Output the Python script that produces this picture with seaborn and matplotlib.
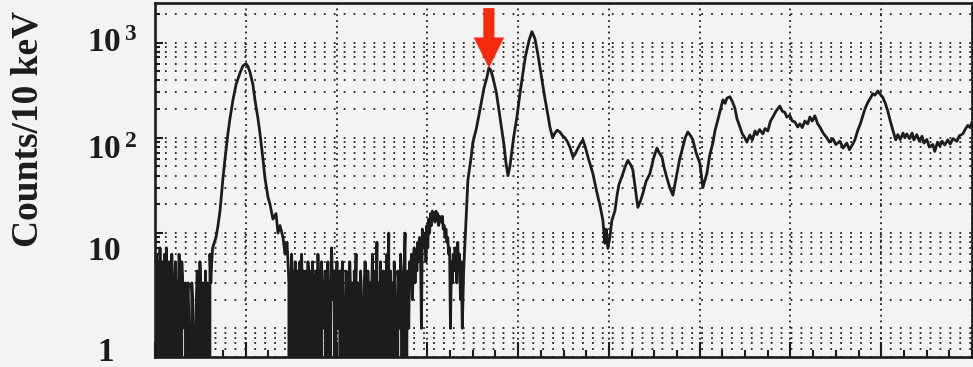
import numpy as np
import pandas as pd
import seaborn as sns
import matplotlib
matplotlib.use("Agg")
import matplotlib.pyplot as plt
from matplotlib.ticker import MultipleLocator, LogLocator, NullFormatter

# ---- spectrum data (10 keV bins, energy in MeV) ----
BIN = 0.01

# low-energy noise floor, bins starting at 0.005 MeV
noise_low_start = 0.005
noise_low_counts = [4, 6, 0, 5, 2, 7, 3, 0, 5, 2, 6, 0, 7, 1, 3, 5, 0, 2, 6, 3, 0, 1, 5, 0, 3, 2, 6, 4, 0, 5, 3, 2,
                    1, 3, 0, 2, 3, 1, 0, 0, 3, 2, 1, 0, 0, 2, 4, 1, 0, 5, 2, 0, 3, 1, 0, 4, 0, 3, 2, 0, 6, 3, 5, 7]

# first full-energy peak
peak1_energy = [0.672, 0.694, 0.716, 0.749, 0.771, 0.804, 0.826, 0.859, 0.892, 0.936, 0.969, 1.002,
                1.024, 1.046, 1.079, 1.101, 1.134, 1.156, 1.189, 1.211, 1.244, 1.267, 1.299, 1.333,
                1.355, 1.377, 1.410, 1.432, 1.454]
peak1_counts = [9, 12, 17, 38, 60, 112, 160, 250, 360, 480, 570, 600,
                560, 490, 360, 250, 160, 112, 60, 38, 24, 20, 14, 16,
                10, 12, 9, 6, 8]

# mid-energy noise floor
noise_mid_start = 1.465
noise_mid_counts = [5, 3, 0, 2, 6, 3, 4, 0, 5, 3,
                    0, 4, 2, 5, 0, 6, 2, 4, 0, 1,
                    4, 0, 5, 3, 4, 1, 0, 5, 2, 0,
                    3, 4, 0, 6, 1, 4, 0, 5, 2, 3,
                    1, 4, 0, 3, 5, 2, 0, 1, 7, 3,
                    2, 4, 0, 3, 5, 1, 2, 4, 0, 3,
                    5, 2, 1, 0, 4, 2, 3, 0, 5, 2,
                    1, 3, 0, 4, 2, 6, 0, 3, 1, 0,
                    4, 2, 1, 0, 3, 5, 2, 0, 4, 1,
                    0, 3, 2, 6, 1, 0, 4, 2, 8, 0,
                    3, 1, 5, 0, 2, 4, 1, 0, 3, 6,
                    2, 10, 0, 4, 1, 3, 0, 5, 2, 1,
                    0, 4, 3, 1, 6, 2, 0, 3, 5, 10,
                    0, 2, 4, 1, 5, 3, 6, 2, 4, 7,
                    3, 6, 4, 8, 5, 9, 6, 1, 11, 7, 10]

# small bump before the main structure
bump_start = 2.975
bump_counts = [9, 5, 12, 7, 14, 10,
               16, 12, 17, 14, 16, 13, 17, 15, 16, 12, 15, 14,
               13, 15, 11, 12, 9, 11, 8, 9, 6, 7,
               1, 5, 3, 6, 4, 7,
               5, 3, 8, 4, 6, 2, 5, 1]

# high-energy structure
high_energy = [3.400, 3.425, 3.447, 3.480, 3.502, 3.540, 3.579, 3.623, 3.656, 3.678, 3.700, 3.722,
               3.760, 3.800, 3.844, 3.866, 3.888, 3.910, 3.950, 3.987, 4.020, 4.053, 4.080, 4.120,
               4.152, 4.185, 4.218, 4.250, 4.295, 4.330, 4.350, 4.380, 4.405, 4.430, 4.460, 4.490,
               4.515, 4.540, 4.570, 4.604, 4.630, 4.648, 4.680, 4.714, 4.740, 4.769, 4.800, 4.824,
               4.850, 4.879, 4.900, 4.934, 4.956, 4.970, 4.989, 5.010, 5.033, 5.066, 5.090, 5.110,
               5.154, 5.180, 5.209, 5.240, 5.264, 5.290, 5.319, 5.350, 5.374, 5.410, 5.452, 5.490,
               5.529, 5.560, 5.584, 5.610, 5.639, 5.670, 5.705, 5.749, 5.780, 5.815, 5.840, 5.870,
               5.900, 5.925, 5.960, 6.002, 6.035, 6.079, 6.110, 6.145, 6.170, 6.200, 6.230, 6.256,
               6.280, 6.300, 6.333, 6.360, 6.388, 6.410, 6.443, 6.470, 6.498, 6.520, 6.553, 6.580,
               6.610, 6.630, 6.660, 6.696, 6.720, 6.751, 6.780, 6.806, 6.840, 6.883, 6.910, 6.938,
               6.960, 6.993, 7.020, 7.048, 7.080, 7.104, 7.130, 7.159, 7.190, 7.214, 7.240, 7.269,
               7.300, 7.324, 7.360, 7.401, 7.430, 7.467, 7.500, 7.544, 7.580, 7.621, 7.650, 7.687,
               7.710, 7.742, 7.770, 7.797, 7.820, 7.852, 7.880, 7.907, 7.930, 7.963, 7.990, 8.018,
               8.045, 8.073, 8.100, 8.128, 8.160, 8.183, 8.210, 8.240, 8.260, 8.282, 8.310, 8.340,
               8.360, 8.392, 8.420, 8.450, 8.470, 8.502, 8.530, 8.568, 8.590, 8.620, 8.645, 8.670,
               8.700, 8.733, 8.760, 8.790, 8.833, 8.860, 8.899, 8.930, 8.954, 8.980, 8.998]
high_counts = [4, 13, 36, 60, 90, 125, 195, 330, 430, 540, 510, 430,
               300, 165, 85, 55, 40, 50, 100, 165, 290, 480, 710, 1050,
               1300, 1100, 750, 480, 260, 170, 130, 100, 112, 120, 115, 105,
               100, 92, 80, 63, 68, 74, 85, 95, 80, 63, 50, 42,
               32, 24, 20, 13.6, 7.8, 11, 6.9, 9, 13.6, 17, 25, 32,
               42, 50, 58, 52, 46, 30, 18.6, 22, 26, 35, 42, 60,
               78, 68, 63, 48, 38, 30, 25, 42, 60, 80, 100, 115,
               105, 95, 70, 54, 30, 42, 65, 88, 120, 154, 200, 250,
               230, 260, 270, 240, 205, 160, 130, 110, 100, 90, 107, 95,
               118, 108, 122, 110, 125, 118, 150, 165, 190, 215, 190, 185,
               165, 172, 150, 147, 130, 140, 128, 150, 140, 165, 150, 170,
               140, 130, 112, 100, 90, 98, 85, 92, 78, 88, 75, 86,
               95, 120, 140, 170, 200, 235, 260, 290, 280, 310, 285, 265,
               230, 190, 150, 120, 95, 108, 96, 112, 100, 110, 98, 112,
               95, 108, 92, 104, 88, 96, 80, 85, 72, 90, 82, 92,
               84, 95, 86, 98, 92, 105, 110, 125, 135, 128, 145]

# marked peak
marked_energy = 3.678
marked_counts = 540

y_tick_values = [1, 10, 100, 1000]
y_tick_labels = [r"$\mathbf{1}$", r"$\mathbf{10}$", r"$\mathbf{10^{\,2}}$", r"$\mathbf{10^{\,3}}$"]
y_label = "Counts/10 keV"

# ---- assemble ----
def grid(start, counts):
    return list(start + BIN * np.arange(len(counts)))

energy = (grid(noise_low_start, noise_low_counts) + peak1_energy
          + grid(noise_mid_start, noise_mid_counts) + grid(bump_start, bump_counts) + high_energy)
counts = noise_low_counts + peak1_counts + noise_mid_counts + bump_counts + high_counts
df = pd.DataFrame({"energy": energy, "counts": counts})

# ---- style ----
sns.set_theme(style="white")
BG = "#f3f3f3"
INK = "#1c1c1c"
plt.rcParams["font.family"] = ["Liberation Serif", "DejaVu Serif"]
plt.rcParams["mathtext.fontset"] = "custom"
plt.rcParams["mathtext.rm"] = "Liberation Serif"
plt.rcParams["mathtext.bf"] = "Liberation Serif:bold"

fig = plt.figure(figsize=(9.73, 3.67), dpi=100, facecolor=BG)
ax = fig.add_axes([155 / 973, 1 - 357 / 367, (972 - 155) / 973, (357 - 3) / 367])
ax.set_facecolor(BG)

sns.lineplot(data=df, x="energy", y="counts", estimator=None, sort=False,
             color=INK, linewidth=2.0, ax=ax)
ax.set_yscale("log")
ax.set_xlim(0, 9)
ax.set_ylim(0.5, 2600)

# ticks
ax.xaxis.set_major_locator(MultipleLocator(1))
ax.xaxis.set_minor_locator(MultipleLocator(0.25))
ax.yaxis.set_major_locator(LogLocator(base=10, numticks=10))
ax.yaxis.set_minor_locator(LogLocator(base=10, subs=np.arange(2, 10), numticks=20))
ax.xaxis.set_major_formatter(NullFormatter())
ax.yaxis.set_major_formatter(NullFormatter())
ax.yaxis.set_minor_formatter(NullFormatter())
ax.tick_params(axis="x", which="major", direction="in", length=10.5, width=1.5, color=INK, bottom=True)
ax.tick_params(axis="x", which="minor", direction="in", length=5, width=1.5, color=INK, bottom=True)
ax.tick_params(axis="y", which="major", direction="in", length=6, width=1.5, color=INK, left=True)
ax.tick_params(axis="y", which="minor", direction="in", length=3.5, width=1.5, color=INK, left=True)

# dotted grid
ax.set_axisbelow(True)
ax.grid(True, axis="y", which="both", color="#222222", linestyle=(0, (1, 4.5)), linewidth=1.3)
ax.grid(True, axis="x", which="major", color="#222222", linestyle=(0, (1, 2.2)), linewidth=1.3)
ax.grid(False, axis="x", which="minor")

for sp in ax.spines.values():
    sp.set_visible(True)
    sp.set_color(INK)
    sp.set_linewidth(1.9)

ax.set_xlabel("")
ax.set_ylabel("")

# y tick labels
label_dx = [-41.5, -49.0, -49.0, -49.0]
label_dy = [-23.5, -19.7, -15.3, -6.7]
for val, lab, dx, dy in zip(y_tick_values, y_tick_labels, label_dx, label_dy):
    ax.annotate(lab, xy=(0, val), xycoords=("axes fraction", "data"),
                xytext=(dx, dy), textcoords="offset points",
                ha="left", va="baseline", fontsize=24, color=INK,
                annotation_clip=False)

fig.text(28 / 973, 1 - 129 / 367, y_label, rotation=90, ha="center", va="center",
         fontsize=27, fontweight="bold", color=INK, family="Liberation Serif")

# arrow marking the peak
ax.annotate("", xy=(marked_energy, marked_counts), xytext=(marked_energy, 2300),
            arrowprops=dict(arrowstyle="simple,head_width=22,head_length=22,tail_width=8",
                            mutation_scale=1, color="#f82a0c", shrinkA=0, shrinkB=0, lw=0))

fig.savefig("out.png", dpi=100, facecolor=BG)
